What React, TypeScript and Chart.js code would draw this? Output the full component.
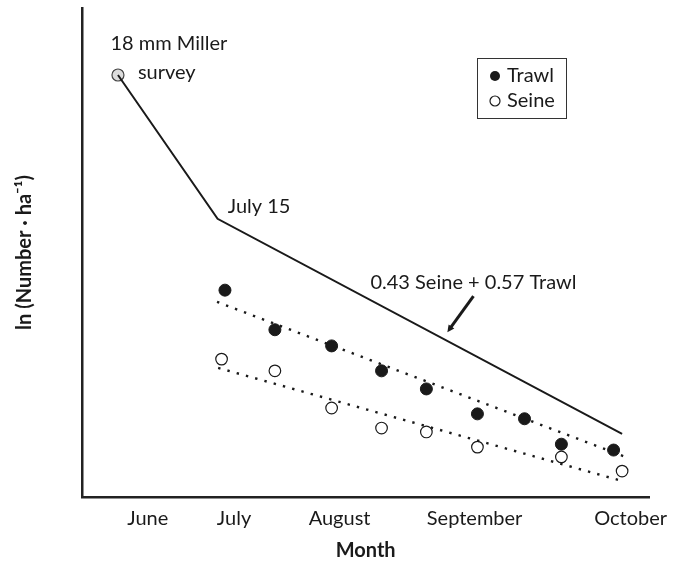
import React, { useEffect, useRef } from "react";
import { Chart, registerables } from "chart.js";

Chart.register(...registerables);

// ---- data (x: relative season position, y: ln density units) ----
const monthLabels = ["June", "July", "August", "September", "October"];
const monthTicks = [11.6, 26.8, 45.4, 69.2, 96.7];

const trawlX = [25.2, 34.0, 44.0, 52.8, 60.7, 69.7, 78.0, 84.5, 93.7];
const trawlY = [4.23, 3.42, 3.09, 2.58, 2.21, 1.70, 1.60, 1.08, 0.96];

const seineX = [24.6, 34.0, 44.0, 52.8, 60.7, 69.7, 84.5, 95.2];
const seineY = [2.82, 2.58, 1.82, 1.41, 1.33, 1.02, 0.82, 0.53];

const millerX = [6.34];
const millerY = [8.63];

const combinedX = [6.34, 23.9, 95.2];
const combinedY = [8.63, 5.69, 1.29];

const trawlTrendX = [23.8, 95.8];
const trawlTrendY = [3.99, 0.82];

const seineTrendX = [24.0, 94.5];
const seineTrendY = [2.64, 0.35];

const arrowX = [69.0, 64.4];
const arrowY = [4.11, 3.37];

const annotationTexts = ["18 mm Miller", "survey", "July 15", "0.43 Seine + 0.57 Trawl"];
const annotationX = [15.3, 9.86, 25.7, 69.0];
const annotationY = [9.28, 8.69, 5.93, 4.38];
const annotationAlign = ["center", "left", "left", "center"];

const legendLabels = ["Trawl", "Seine"];

const FONT = "Lato, 'Open Sans', sans-serif";
const INK = "#1a1a1a";

const pts = (xs: number[], ys: number[]) => xs.map((x, i) => ({ x, y: ys[i] }));

const annotationPlugin = {
  id: "annotations",
  afterDatasetsDraw(chart: any) {
    const { ctx, scales } = chart;
    const xs = scales.x;
    const ys = scales.y;
    ctx.save();
    ctx.fillStyle = INK;
    ctx.font = `20px ${FONT}`;
    ctx.textBaseline = "middle";
    annotationTexts.forEach((t, i) => {
      ctx.textAlign = annotationAlign[i] as CanvasTextAlign;
      ctx.fillText(t, xs.getPixelForValue(annotationX[i]), ys.getPixelForValue(annotationY[i]));
    });
    // arrow
    const x0 = xs.getPixelForValue(arrowX[0]);
    const y0 = ys.getPixelForValue(arrowY[0]);
    const x1 = xs.getPixelForValue(arrowX[1]);
    const y1 = ys.getPixelForValue(arrowY[1]);
    const ang = Math.atan2(y1 - y0, x1 - x0);
    ctx.strokeStyle = INK;
    ctx.lineWidth = 3;
    ctx.beginPath();
    ctx.moveTo(x0, y0);
    ctx.lineTo(x1 - Math.cos(ang) * 4, y1 - Math.sin(ang) * 4);
    ctx.stroke();
    ctx.beginPath();
    const hl = 7;
    const hw = 3.5;
    ctx.moveTo(x1, y1);
    ctx.lineTo(x1 - hl * Math.cos(ang) + hw * Math.sin(ang), y1 - hl * Math.sin(ang) - hw * Math.cos(ang));
    ctx.lineTo(x1 - hl * Math.cos(ang) - hw * Math.sin(ang), y1 - hl * Math.sin(ang) + hw * Math.cos(ang));
    ctx.closePath();
    ctx.fillStyle = INK;
    ctx.fill();
    // legend box
    const bx = 477, by = 58, bw = 89, bh = 60;
    ctx.lineWidth = 1;
    ctx.strokeStyle = "#333";
    ctx.strokeRect(bx + 0.5, by + 0.5, bw, bh);
    ctx.font = `20px ${FONT}`;
    ctx.textAlign = "left";
    ctx.textBaseline = "middle";
    legendLabels.forEach((lab, i) => {
      const cy = by + 18 + i * 25;
      ctx.beginPath();
      ctx.arc(bx + 18, cy, 5, 0, Math.PI * 2);
      if (i === 0) {
        ctx.fillStyle = INK;
        ctx.fill();
      } else {
        ctx.fillStyle = "#fff";
        ctx.fill();
        ctx.lineWidth = 1.2;
        ctx.strokeStyle = INK;
        ctx.stroke();
      }
      ctx.fillStyle = INK;
      ctx.fillText(lab, bx + 30, cy);
    });
    ctx.restore();
  },
};

export default function App() {
  const ref = useRef<HTMLCanvasElement | null>(null);

  useEffect(() => {
    if (!ref.current) return;
    const chart = new Chart(ref.current, {
      type: "scatter",
      data: {
        datasets: [
          {
            label: "0.43 Seine + 0.57 Trawl",
            type: "line",
            data: pts(combinedX, combinedY),
            borderColor: INK,
            borderWidth: 2,
            pointRadius: 0,
            showLine: true,
            fill: false,
            tension: 0,
          },
          {
            label: "Trawl trend",
            type: "line",
            data: pts(trawlTrendX, trawlTrendY),
            borderColor: INK,
            borderWidth: 2.4,
            borderDash: [2.4, 7.2],
            pointRadius: 0,
            showLine: true,
            fill: false,
          },
          {
            label: "Seine trend",
            type: "line",
            data: pts(seineTrendX, seineTrendY),
            borderColor: INK,
            borderWidth: 2.4,
            borderDash: [2.4, 7.2],
            pointRadius: 0,
            showLine: true,
            fill: false,
          },
          {
            label: "Trawl",
            data: pts(trawlX, trawlY),
            pointRadius: 6,
            backgroundColor: INK,
            borderColor: INK,
            borderWidth: 1,
          },
          {
            label: "Seine",
            data: pts(seineX, seineY),
            pointRadius: 5.8,
            backgroundColor: "#fff",
            borderColor: INK,
            borderWidth: 1.2,
          },
          {
            label: "18 mm Miller survey",
            data: pts(millerX, millerY),
            pointRadius: 6,
            backgroundColor: "#dcdcdc",
            borderColor: "#444",
            borderWidth: 1.2,
          },
        ],
      },
      options: {
        responsive: false,
        animation: false,
        layout: { padding: { top: 8, right: 28, left: 0, bottom: 0 } },
        plugins: { legend: { display: false }, tooltip: { enabled: false } },
        scales: {
          x: {
            type: "linear",
            min: 0,
            max: 100,
            grid: { display: false, drawTicks: false, tickLength: 0 },
            border: { display: true, color: "#222", width: 2.5 },
            afterBuildTicks: (s: any) => {
              s.ticks = monthTicks.map((v) => ({ value: v }));
            },
            afterFit: (s: any) => {
              s.height = 70;
            },
            ticks: {
              autoSkip: false,
              maxRotation: 0,
              padding: 10,
              color: INK,
              font: { family: FONT, size: 20 },
              callback: (v: any) => {
                const i = monthTicks.indexOf(Number(v));
                return i >= 0 ? monthLabels[i] : "";
              },
            },
            title: {
              display: true,
              text: "Month",
              color: INK,
              font: { family: FONT, size: 20, weight: "bold" },
              padding: { top: 0, bottom: 4 },
            },
          },
          y: {
            type: "linear",
            min: 0,
            max: 10,
            grid: { display: false, drawTicks: false, tickLength: 0 },
            border: { display: true, color: "#222", width: 2.5 },
            ticks: { display: false },
            afterFit: (s: any) => {
              s.width = 82;
            },
            title: {
              display: true,
              text: "ln (Number · ha⁻¹)",
              color: INK,
              font: { family: FONT, size: 20, weight: "bold" },
              padding: { top: 13, bottom: 0 },
            },
          },
        },
      },
      plugins: [annotationPlugin],
    });
    return () => chart.destroy();
  }, []);

  return (
    <div style={{ position: "absolute", left: 0, top: 0, width: 678, height: 567, background: "#fff" }}>
      <canvas ref={ref} width={678} height={567} />
    </div>
  );
}
